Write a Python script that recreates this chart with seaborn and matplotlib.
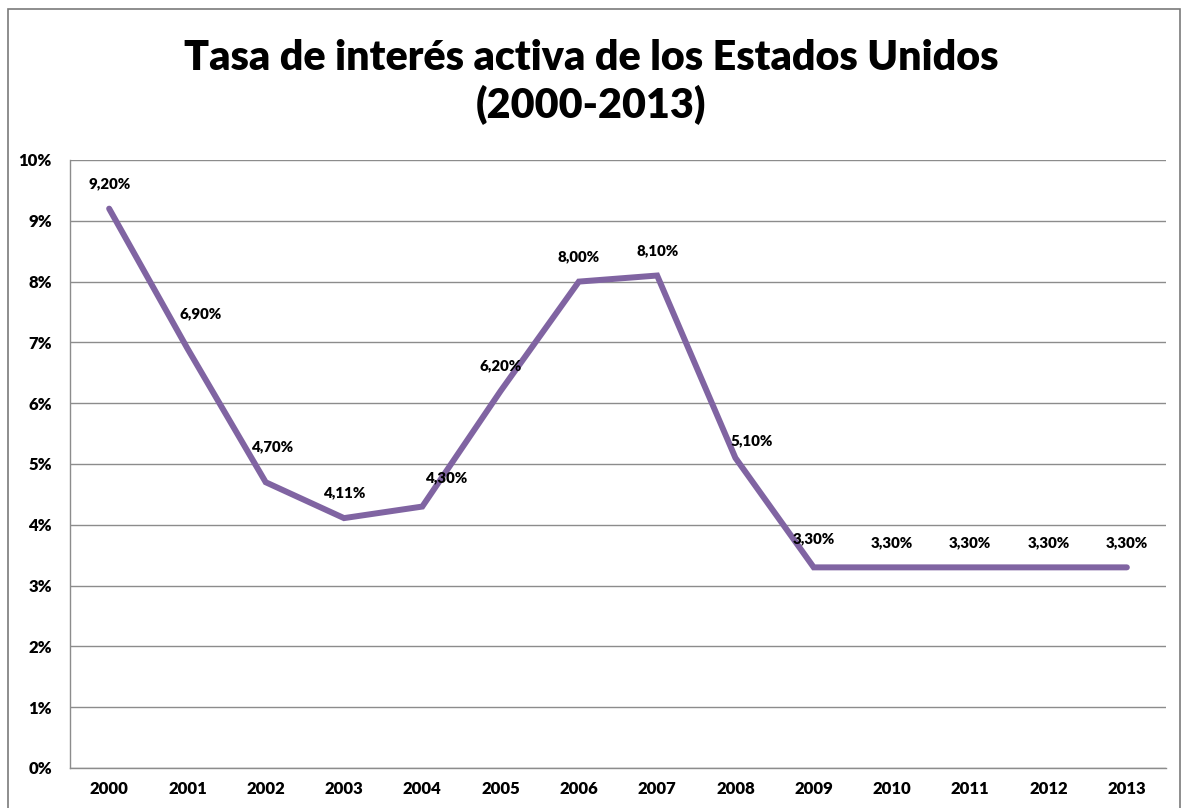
import matplotlib
matplotlib.use("Agg")
import matplotlib.pyplot as plt
import matplotlib.patches as mpatches
from matplotlib.ticker import FixedLocator, PercentFormatter
import pandas as pd
import seaborn as sns

years = ["2000", "2001", "2002", "2003", "2004", "2005", "2006",
         "2007", "2008", "2009", "2010", "2011", "2012", "2013"]
rates = [9.20, 6.90, 4.70, 4.11, 4.30, 6.20, 8.00,
         8.10, 5.10, 3.30, 3.30, 3.30, 3.30, 3.30]
rate_labels = ["9,20%", "6,90%", "4,70%", "4,11%", "4,30%", "6,20%", "8,00%",
               "8,10%", "5,10%", "3,30%", "3,30%", "3,30%", "3,30%", "3,30%"]

df = pd.DataFrame({"pos": range(len(years)), "rate": rates})

sns.set_style("white")
plt.rcParams["font.family"] = ["Lato", "DejaVu Sans"]
plt.rcParams["text.color"] = "black"

fig = plt.figure(figsize=(11.82, 8.08), dpi=100)
ax = fig.add_axes([70 / 1182, 40 / 808, 1096 / 1182, 608 / 808])

sns.lineplot(data=df, x="pos", y="rate", ax=ax, color="#8064A2",
             linewidth=4.3, solid_capstyle="round", solid_joinstyle="miter")

# label nudges (pixels) to mimic the hand-placed Excel labels
nudges = {1: (13, 10), 2: (6, 10), 4: (24, 4), 8: (16, -8), 9: (0, 4)}
for i, (r, lab) in enumerate(zip(rates, rate_labels)):
    dx, dy = nudges.get(i, (0, 0))
    ax.annotate(lab, (i, r), xytext=(dx * 0.72, 18 + dy * 0.72),
                textcoords="offset points", ha="center", va="center",
                fontsize=10.8, fontweight="heavy", color="black")

ax.set_xlim(-0.5, len(years) - 0.5)
ax.set_ylim(0, 10)
ax.set_xticks(range(len(years)))
ax.set_xticklabels(years)
ax.xaxis.set_minor_locator(FixedLocator([i - 0.5 for i in range(len(years) + 1)]))
ax.set_yticks(range(0, 11))
ax.yaxis.set_major_formatter(PercentFormatter(decimals=0))
ax.tick_params(axis="x", which="major", length=0, pad=9, labelsize=12)
ax.tick_params(axis="x", which="minor", length=6, color="#8c8c8c", width=1)
ax.tick_params(axis="y", length=6, color="#8c8c8c", width=1, pad=7, labelsize=12)
for t in ax.get_xticklabels() + ax.get_yticklabels():
    t.set_fontweight("heavy")
    t.set_color("black")

ax.grid(axis="y", color="#8c8c8c", linewidth=1)
ax.set_axisbelow(True)
for side in ["top", "right"]:
    ax.spines[side].set_visible(False)
for side in ["left", "bottom"]:
    ax.spines[side].set_color("#8c8c8c")
    ax.spines[side].set_linewidth(1)
ax.set_xlabel("")
ax.set_ylabel("")

fig.text(0.5, 1 - 58 / 808, "Tasa de interés activa de los Estados Unidos",
         ha="center", va="center", fontsize=29.7, fontweight="heavy", color="black")
fig.text(0.5, 1 - 105 / 808, "(2000-2013)",
         ha="center", va="center", fontsize=29.7, fontweight="heavy", color="black")

fig.patches.append(mpatches.Rectangle((8 / 1182, -0.05), 1172 / 1182, 1.05 - 9 / 808,
                                      transform=fig.transFigure, fill=False,
                                      edgecolor="#7a7a7a", linewidth=1.2))

fig.savefig("out.png", dpi=100)
